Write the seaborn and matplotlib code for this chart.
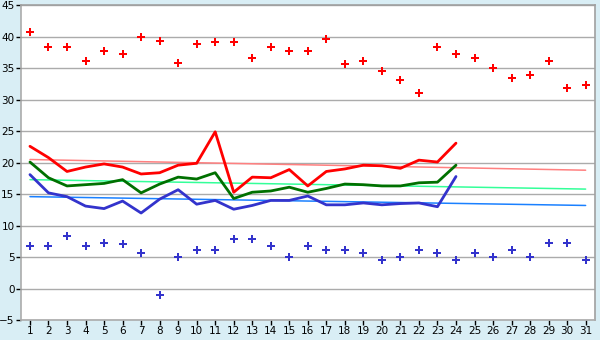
import matplotlib
matplotlib.use("Agg")
import matplotlib.pyplot as plt
import seaborn as sns
import numpy as np
import pandas as pd

days = list(range(1, 32))
days_obs = list(range(1, 25))

record_max = [40.7, 38.3, 38.4, 36.1, 37.8, 37.2, 40.0, 39.4, 35.9, 38.9,
              39.1, 39.1, 36.7, 38.3, 37.8, 37.8, 39.7, 35.6, 36.1, 34.5,
              33.2, 31.0, 38.3, 37.2, 36.7, 35.0, 33.4, 34.0, 36.1, 31.8, 32.3]
record_min = [6.7, 6.7, 8.3, 6.7, 7.2, 7.0, 5.6, -1.1, 5.0, 6.1,
              6.1, 7.8, 7.8, 6.7, 5.0, 6.7, 6.1, 6.1, 5.6, 4.5,
              5.0, 6.1, 5.6, 4.5, 5.6, 5.0, 6.1, 5.0, 7.2, 7.2, 4.5]

t_max = [22.6, 20.8, 18.6, 19.3, 19.8, 19.3, 18.2, 18.4, 19.6, 19.9,
         24.9, 15.3, 17.7, 17.6, 18.9, 16.3, 18.6, 19.0, 19.6, 19.5,
         19.1, 20.4, 20.1, 23.1]
t_mean = [20.1, 17.6, 16.3, 16.5, 16.7, 17.3, 15.2, 16.6, 17.7, 17.4,
          18.4, 14.3, 15.3, 15.5, 16.1, 15.3, 15.9, 16.6, 16.5, 16.3,
          16.3, 16.8, 16.9, 19.6]
t_min = [18.1, 15.2, 14.6, 13.1, 12.7, 13.9, 12.0, 14.2, 15.7, 13.4,
         14.0, 12.6, 13.2, 14.0, 14.0, 14.7, 13.3, 13.3, 13.6, 13.3,
         13.5, 13.6, 13.0, 17.8]

norm_max_ends = [20.5, 18.8]
norm_mean_ends = [17.3, 15.8]
norm_min_ends = [14.6, 13.2]

yticks = list(range(-5, 50, 5))

bg = "#D9EEF5"
sns.set_style("white")
plt.rcParams['font.family'] = ['DejaVu Sans']

fig = plt.figure(figsize=(6, 3.4), dpi=100, facecolor=bg)
ax = fig.add_axes([0.0345, 0.0588, 0.957, 0.9256])
ax.set_facecolor("white")

for y in yticks:
    ax.axhline(y, color="#ABABAB", lw=1, zorder=0)

trend_df = pd.DataFrame({
    "day": [1, 31] * 3,
    "val": norm_max_ends + norm_mean_ends + norm_min_ends,
    "s": ["max"] * 2 + ["mean"] * 2 + ["min"] * 2,
})
for s, c in [("max", "#FF8080"), ("mean", "#33FF99"), ("min", "#1A80FF")]:
    sub = trend_df[trend_df.s == s]
    sns.lineplot(data=sub, x="day", y="val", color=c, lw=1.1, ax=ax, zorder=2)

obs_df = pd.DataFrame({"day": days_obs, "max": t_max, "mean": t_mean, "min": t_min})
sns.lineplot(data=obs_df, x="day", y="max", color="#FF0000", lw=2, ax=ax, zorder=3)
sns.lineplot(data=obs_df, x="day", y="mean", color="#007000", lw=2, ax=ax, zorder=3)
sns.lineplot(data=obs_df, x="day", y="min", color="#3333CC", lw=2, ax=ax, zorder=3)

rec_df = pd.DataFrame({"day": days, "rmax": record_max, "rmin": record_min})
sns.scatterplot(data=rec_df, x="day", y="rmax", color="#FF0000", marker="P", s=30,
                linewidth=0, ax=ax, zorder=4)
sns.scatterplot(data=rec_df, x="day", y="rmin", color="#3333CC", marker="P", s=30,
                linewidth=0, ax=ax, zorder=4)

ax.set_xlim(0.5, 31.5)
ax.set_ylim(-5, 45)
ax.set_xticks(days)
ax.set_yticks(yticks)
ax.set_xticklabels([str(d) for d in days])
ax.set_yticklabels([str(y).replace("-", "\u2212") for y in yticks])
ax.set_xlabel("")
ax.set_ylabel("")
ax.tick_params(axis="both", labelsize=7.5, colors="black", length=3.5, width=1,
               direction="out", pad=1)
ax.tick_params(axis="x", bottom=True)
ax.tick_params(axis="y", left=True)
for sp in ax.spines.values():
    sp.set_color("#A0A0A0")
    sp.set_linewidth(1.2)
ax.spines["bottom"].set_color("#ABABAB")
ax.spines["left"].set_color("#ABABAB")

fig.savefig("out.png", dpi=100, facecolor=bg)
